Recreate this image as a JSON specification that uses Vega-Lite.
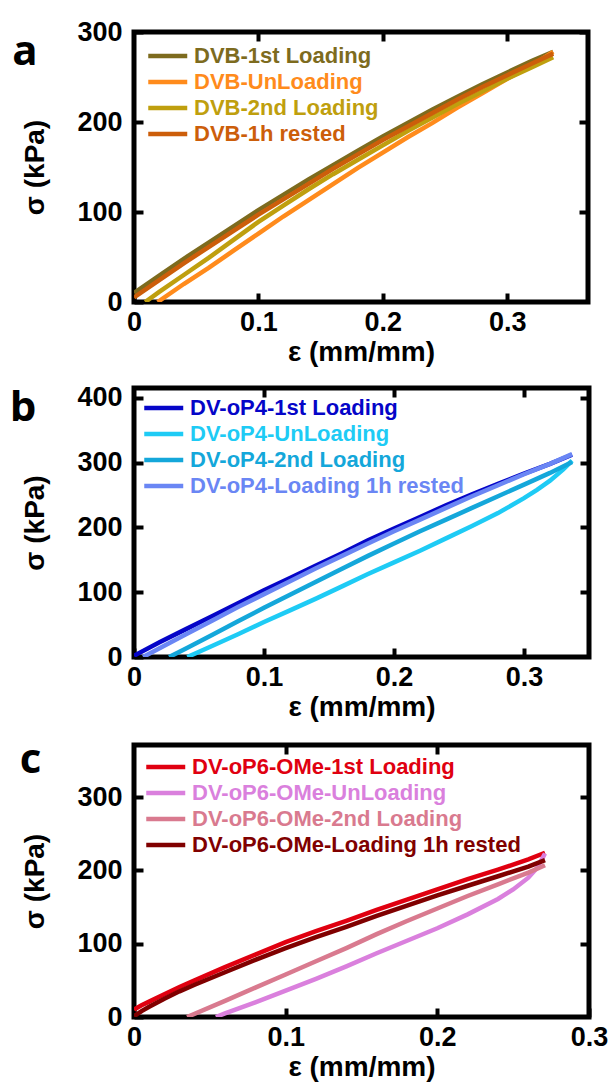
{
  "$schema": "https://vega.github.io/schema/vega-lite/v6.json",
  "background": "white",
  "padding": {"left": 7, "top": 15, "right": 0, "bottom": 0},
  "spacing": 12,
  "datasets": {
    "a": [
      {"s": "DVB-1st Loading", "x": 0, "y": 10}, {"s": "DVB-1st Loading", "x": 0.02, "y": 29}, {"s": "DVB-1st Loading", "x": 0.04, "y": 48}, {"s": "DVB-1st Loading", "x": 0.06, "y": 66}, {"s": "DVB-1st Loading", "x": 0.08, "y": 84}, {"s": "DVB-1st Loading", "x": 0.1, "y": 102}, {"s": "DVB-1st Loading", "x": 0.12, "y": 119}, {"s": "DVB-1st Loading", "x": 0.14, "y": 136}, {"s": "DVB-1st Loading", "x": 0.16, "y": 152}, {"s": "DVB-1st Loading", "x": 0.18, "y": 168}, {"s": "DVB-1st Loading", "x": 0.2, "y": 184}, {"s": "DVB-1st Loading", "x": 0.22, "y": 199}, {"s": "DVB-1st Loading", "x": 0.24, "y": 214}, {"s": "DVB-1st Loading", "x": 0.26, "y": 228}, {"s": "DVB-1st Loading", "x": 0.28, "y": 242}, {"s": "DVB-1st Loading", "x": 0.3, "y": 255}, {"s": "DVB-1st Loading", "x": 0.32, "y": 268}, {"s": "DVB-1st Loading", "x": 0.337, "y": 278},
      {"s": "DVB-UnLoading", "x": 0.019, "y": 0}, {"s": "DVB-UnLoading", "x": 0.04, "y": 20}, {"s": "DVB-UnLoading", "x": 0.06, "y": 38}, {"s": "DVB-UnLoading", "x": 0.08, "y": 57}, {"s": "DVB-UnLoading", "x": 0.1, "y": 76}, {"s": "DVB-UnLoading", "x": 0.12, "y": 95}, {"s": "DVB-UnLoading", "x": 0.14, "y": 113}, {"s": "DVB-UnLoading", "x": 0.16, "y": 131}, {"s": "DVB-UnLoading", "x": 0.18, "y": 149}, {"s": "DVB-UnLoading", "x": 0.2, "y": 166}, {"s": "DVB-UnLoading", "x": 0.22, "y": 183}, {"s": "DVB-UnLoading", "x": 0.24, "y": 199}, {"s": "DVB-UnLoading", "x": 0.26, "y": 216}, {"s": "DVB-UnLoading", "x": 0.28, "y": 232}, {"s": "DVB-UnLoading", "x": 0.3, "y": 248}, {"s": "DVB-UnLoading", "x": 0.32, "y": 263}, {"s": "DVB-UnLoading", "x": 0.337, "y": 278},
      {"s": "DVB-2nd Loading", "x": 0.009, "y": 0}, {"s": "DVB-2nd Loading", "x": 0.02, "y": 11}, {"s": "DVB-2nd Loading", "x": 0.04, "y": 30}, {"s": "DVB-2nd Loading", "x": 0.06, "y": 49}, {"s": "DVB-2nd Loading", "x": 0.08, "y": 69}, {"s": "DVB-2nd Loading", "x": 0.1, "y": 89}, {"s": "DVB-2nd Loading", "x": 0.12, "y": 107}, {"s": "DVB-2nd Loading", "x": 0.14, "y": 125}, {"s": "DVB-2nd Loading", "x": 0.16, "y": 142}, {"s": "DVB-2nd Loading", "x": 0.18, "y": 158}, {"s": "DVB-2nd Loading", "x": 0.2, "y": 174}, {"s": "DVB-2nd Loading", "x": 0.22, "y": 190}, {"s": "DVB-2nd Loading", "x": 0.24, "y": 205}, {"s": "DVB-2nd Loading", "x": 0.26, "y": 220}, {"s": "DVB-2nd Loading", "x": 0.28, "y": 234}, {"s": "DVB-2nd Loading", "x": 0.3, "y": 248}, {"s": "DVB-2nd Loading", "x": 0.32, "y": 261}, {"s": "DVB-2nd Loading", "x": 0.337, "y": 272},
      {"s": "DVB-1h rested", "x": 0, "y": 5}, {"s": "DVB-1h rested", "x": 0.02, "y": 24}, {"s": "DVB-1h rested", "x": 0.04, "y": 43}, {"s": "DVB-1h rested", "x": 0.06, "y": 61}, {"s": "DVB-1h rested", "x": 0.08, "y": 79}, {"s": "DVB-1h rested", "x": 0.1, "y": 97}, {"s": "DVB-1h rested", "x": 0.12, "y": 114}, {"s": "DVB-1h rested", "x": 0.14, "y": 131}, {"s": "DVB-1h rested", "x": 0.16, "y": 148}, {"s": "DVB-1h rested", "x": 0.18, "y": 164}, {"s": "DVB-1h rested", "x": 0.2, "y": 180}, {"s": "DVB-1h rested", "x": 0.22, "y": 195}, {"s": "DVB-1h rested", "x": 0.24, "y": 210}, {"s": "DVB-1h rested", "x": 0.26, "y": 225}, {"s": "DVB-1h rested", "x": 0.28, "y": 239}, {"s": "DVB-1h rested", "x": 0.3, "y": 252}, {"s": "DVB-1h rested", "x": 0.32, "y": 265}, {"s": "DVB-1h rested", "x": 0.337, "y": 276}
    ],
    "b": [
      {"s": "DV-oP4-1st Loading", "x": 0, "y": 2}, {"s": "DV-oP4-1st Loading", "x": 0.02, "y": 23}, {"s": "DV-oP4-1st Loading", "x": 0.04, "y": 43}, {"s": "DV-oP4-1st Loading", "x": 0.06, "y": 63}, {"s": "DV-oP4-1st Loading", "x": 0.08, "y": 83}, {"s": "DV-oP4-1st Loading", "x": 0.1, "y": 103}, {"s": "DV-oP4-1st Loading", "x": 0.12, "y": 122}, {"s": "DV-oP4-1st Loading", "x": 0.14, "y": 141}, {"s": "DV-oP4-1st Loading", "x": 0.16, "y": 160}, {"s": "DV-oP4-1st Loading", "x": 0.18, "y": 180}, {"s": "DV-oP4-1st Loading", "x": 0.2, "y": 198}, {"s": "DV-oP4-1st Loading", "x": 0.22, "y": 216}, {"s": "DV-oP4-1st Loading", "x": 0.24, "y": 234}, {"s": "DV-oP4-1st Loading", "x": 0.26, "y": 251}, {"s": "DV-oP4-1st Loading", "x": 0.28, "y": 267}, {"s": "DV-oP4-1st Loading", "x": 0.3, "y": 283}, {"s": "DV-oP4-1st Loading", "x": 0.32, "y": 298}, {"s": "DV-oP4-1st Loading", "x": 0.337, "y": 312},
      {"s": "DV-oP4-UnLoading", "x": 0.041, "y": 0}, {"s": "DV-oP4-UnLoading", "x": 0.06, "y": 17}, {"s": "DV-oP4-UnLoading", "x": 0.08, "y": 35}, {"s": "DV-oP4-UnLoading", "x": 0.1, "y": 54}, {"s": "DV-oP4-UnLoading", "x": 0.12, "y": 72}, {"s": "DV-oP4-UnLoading", "x": 0.14, "y": 90}, {"s": "DV-oP4-UnLoading", "x": 0.16, "y": 109}, {"s": "DV-oP4-UnLoading", "x": 0.18, "y": 128}, {"s": "DV-oP4-UnLoading", "x": 0.2, "y": 146}, {"s": "DV-oP4-UnLoading", "x": 0.22, "y": 164}, {"s": "DV-oP4-UnLoading", "x": 0.24, "y": 183}, {"s": "DV-oP4-UnLoading", "x": 0.26, "y": 202}, {"s": "DV-oP4-UnLoading", "x": 0.28, "y": 222}, {"s": "DV-oP4-UnLoading", "x": 0.3, "y": 245}, {"s": "DV-oP4-UnLoading", "x": 0.31, "y": 258}, {"s": "DV-oP4-UnLoading", "x": 0.32, "y": 272}, {"s": "DV-oP4-UnLoading", "x": 0.33, "y": 289}, {"s": "DV-oP4-UnLoading", "x": 0.337, "y": 303},
      {"s": "DV-oP4-2nd Loading", "x": 0.027, "y": 0}, {"s": "DV-oP4-2nd Loading", "x": 0.04, "y": 13}, {"s": "DV-oP4-2nd Loading", "x": 0.06, "y": 34}, {"s": "DV-oP4-2nd Loading", "x": 0.08, "y": 55}, {"s": "DV-oP4-2nd Loading", "x": 0.1, "y": 76}, {"s": "DV-oP4-2nd Loading", "x": 0.12, "y": 96}, {"s": "DV-oP4-2nd Loading", "x": 0.14, "y": 116}, {"s": "DV-oP4-2nd Loading", "x": 0.16, "y": 136}, {"s": "DV-oP4-2nd Loading", "x": 0.18, "y": 156}, {"s": "DV-oP4-2nd Loading", "x": 0.2, "y": 175}, {"s": "DV-oP4-2nd Loading", "x": 0.22, "y": 194}, {"s": "DV-oP4-2nd Loading", "x": 0.24, "y": 212}, {"s": "DV-oP4-2nd Loading", "x": 0.26, "y": 230}, {"s": "DV-oP4-2nd Loading", "x": 0.28, "y": 248}, {"s": "DV-oP4-2nd Loading", "x": 0.3, "y": 266}, {"s": "DV-oP4-2nd Loading", "x": 0.32, "y": 284}, {"s": "DV-oP4-2nd Loading", "x": 0.337, "y": 301},
      {"s": "DV-oP4-Loading 1h rested", "x": 0.007, "y": 0}, {"s": "DV-oP4-Loading 1h rested", "x": 0.02, "y": 14}, {"s": "DV-oP4-Loading 1h rested", "x": 0.04, "y": 35}, {"s": "DV-oP4-Loading 1h rested", "x": 0.06, "y": 56}, {"s": "DV-oP4-Loading 1h rested", "x": 0.08, "y": 77}, {"s": "DV-oP4-Loading 1h rested", "x": 0.1, "y": 97}, {"s": "DV-oP4-Loading 1h rested", "x": 0.12, "y": 117}, {"s": "DV-oP4-Loading 1h rested", "x": 0.14, "y": 137}, {"s": "DV-oP4-Loading 1h rested", "x": 0.16, "y": 156}, {"s": "DV-oP4-Loading 1h rested", "x": 0.18, "y": 175}, {"s": "DV-oP4-Loading 1h rested", "x": 0.2, "y": 194}, {"s": "DV-oP4-Loading 1h rested", "x": 0.22, "y": 212}, {"s": "DV-oP4-Loading 1h rested", "x": 0.24, "y": 230}, {"s": "DV-oP4-Loading 1h rested", "x": 0.26, "y": 248}, {"s": "DV-oP4-Loading 1h rested", "x": 0.28, "y": 265}, {"s": "DV-oP4-Loading 1h rested", "x": 0.3, "y": 282}, {"s": "DV-oP4-Loading 1h rested", "x": 0.32, "y": 298}, {"s": "DV-oP4-Loading 1h rested", "x": 0.337, "y": 313}
    ],
    "c": [
      {"s": "DV-oP6-OMe-1st Loading", "x": 0, "y": 10}, {"s": "DV-oP6-OMe-1st Loading", "x": 0.005, "y": 16}, {"s": "DV-oP6-OMe-1st Loading", "x": 0.01, "y": 21}, {"s": "DV-oP6-OMe-1st Loading", "x": 0.02, "y": 31}, {"s": "DV-oP6-OMe-1st Loading", "x": 0.03, "y": 41}, {"s": "DV-oP6-OMe-1st Loading", "x": 0.04, "y": 50}, {"s": "DV-oP6-OMe-1st Loading", "x": 0.06, "y": 68}, {"s": "DV-oP6-OMe-1st Loading", "x": 0.08, "y": 85}, {"s": "DV-oP6-OMe-1st Loading", "x": 0.1, "y": 102}, {"s": "DV-oP6-OMe-1st Loading", "x": 0.12, "y": 117}, {"s": "DV-oP6-OMe-1st Loading", "x": 0.14, "y": 131}, {"s": "DV-oP6-OMe-1st Loading", "x": 0.16, "y": 146}, {"s": "DV-oP6-OMe-1st Loading", "x": 0.18, "y": 160}, {"s": "DV-oP6-OMe-1st Loading", "x": 0.2, "y": 174}, {"s": "DV-oP6-OMe-1st Loading", "x": 0.22, "y": 188}, {"s": "DV-oP6-OMe-1st Loading", "x": 0.24, "y": 201}, {"s": "DV-oP6-OMe-1st Loading", "x": 0.26, "y": 215}, {"s": "DV-oP6-OMe-1st Loading", "x": 0.271, "y": 224},
      {"s": "DV-oP6-OMe-UnLoading", "x": 0.054, "y": 0}, {"s": "DV-oP6-OMe-UnLoading", "x": 0.06, "y": 5}, {"s": "DV-oP6-OMe-UnLoading", "x": 0.08, "y": 20}, {"s": "DV-oP6-OMe-UnLoading", "x": 0.1, "y": 36}, {"s": "DV-oP6-OMe-UnLoading", "x": 0.12, "y": 52}, {"s": "DV-oP6-OMe-UnLoading", "x": 0.14, "y": 69}, {"s": "DV-oP6-OMe-UnLoading", "x": 0.16, "y": 87}, {"s": "DV-oP6-OMe-UnLoading", "x": 0.18, "y": 104}, {"s": "DV-oP6-OMe-UnLoading", "x": 0.2, "y": 121}, {"s": "DV-oP6-OMe-UnLoading", "x": 0.22, "y": 140}, {"s": "DV-oP6-OMe-UnLoading", "x": 0.24, "y": 161}, {"s": "DV-oP6-OMe-UnLoading", "x": 0.25, "y": 174}, {"s": "DV-oP6-OMe-UnLoading", "x": 0.26, "y": 190}, {"s": "DV-oP6-OMe-UnLoading", "x": 0.266, "y": 204}, {"s": "DV-oP6-OMe-UnLoading", "x": 0.271, "y": 223},
      {"s": "DV-oP6-OMe-2nd Loading", "x": 0.035, "y": 0}, {"s": "DV-oP6-OMe-2nd Loading", "x": 0.06, "y": 22}, {"s": "DV-oP6-OMe-2nd Loading", "x": 0.08, "y": 40}, {"s": "DV-oP6-OMe-2nd Loading", "x": 0.1, "y": 58}, {"s": "DV-oP6-OMe-2nd Loading", "x": 0.12, "y": 76}, {"s": "DV-oP6-OMe-2nd Loading", "x": 0.14, "y": 94}, {"s": "DV-oP6-OMe-2nd Loading", "x": 0.16, "y": 113}, {"s": "DV-oP6-OMe-2nd Loading", "x": 0.18, "y": 131}, {"s": "DV-oP6-OMe-2nd Loading", "x": 0.2, "y": 148}, {"s": "DV-oP6-OMe-2nd Loading", "x": 0.22, "y": 165}, {"s": "DV-oP6-OMe-2nd Loading", "x": 0.24, "y": 181}, {"s": "DV-oP6-OMe-2nd Loading", "x": 0.26, "y": 197}, {"s": "DV-oP6-OMe-2nd Loading", "x": 0.271, "y": 207},
      {"s": "DV-oP6-OMe-Loading 1h rested", "x": 0, "y": 1}, {"s": "DV-oP6-OMe-Loading 1h rested", "x": 0.005, "y": 8}, {"s": "DV-oP6-OMe-Loading 1h rested", "x": 0.01, "y": 14}, {"s": "DV-oP6-OMe-Loading 1h rested", "x": 0.02, "y": 25}, {"s": "DV-oP6-OMe-Loading 1h rested", "x": 0.03, "y": 35}, {"s": "DV-oP6-OMe-Loading 1h rested", "x": 0.04, "y": 44}, {"s": "DV-oP6-OMe-Loading 1h rested", "x": 0.06, "y": 61}, {"s": "DV-oP6-OMe-Loading 1h rested", "x": 0.08, "y": 78}, {"s": "DV-oP6-OMe-Loading 1h rested", "x": 0.1, "y": 94}, {"s": "DV-oP6-OMe-Loading 1h rested", "x": 0.12, "y": 109}, {"s": "DV-oP6-OMe-Loading 1h rested", "x": 0.14, "y": 123}, {"s": "DV-oP6-OMe-Loading 1h rested", "x": 0.16, "y": 138}, {"s": "DV-oP6-OMe-Loading 1h rested", "x": 0.18, "y": 152}, {"s": "DV-oP6-OMe-Loading 1h rested", "x": 0.2, "y": 166}, {"s": "DV-oP6-OMe-Loading 1h rested", "x": 0.22, "y": 179}, {"s": "DV-oP6-OMe-Loading 1h rested", "x": 0.24, "y": 192}, {"s": "DV-oP6-OMe-Loading 1h rested", "x": 0.26, "y": 205}, {"s": "DV-oP6-OMe-Loading 1h rested", "x": 0.271, "y": 214}
    ]
  },
  "vconcat": [
    {
      "title": {"text": "a", "orient": "left", "anchor": "end", "frame": "group", "angle": 0, "align": "right", "baseline": "top", "offset": -29, "dx": 12, "font": "Open Sans", "fontSize": 42, "fontWeight": "bold", "color": "black"},
      "width": 454, "height": 270,
      "data": {"name": "a"},
      "layer": [
        {
          "mark": {"type": "line", "strokeWidth": 4.5, "clip": true},
          "encoding": {
            "x": {"field": "x", "type": "quantitative", "scale": {"domain": [0, 0.365], "nice": false, "zero": false}, "axis": {"values": [0, 0.1, 0.2, 0.3], "format": "~g", "title": "ε (mm/mm)"}},
            "y": {"field": "y", "type": "quantitative", "scale": {"domain": [0, 300], "nice": false}, "axis": {"values": [0, 100, 200, 300], "title": "σ (kPa)"}},
            "color": {"field": "s", "type": "nominal",
              "scale": {"domain": ["DVB-1st Loading", "DVB-UnLoading", "DVB-2nd Loading", "DVB-1h rested"], "range": ["#7d6b1e", "#ff8b1c", "#bf9f0e", "#cc5e0a"]},
              "legend": {"encode": {"labels": {"update": {"fill": {"signal": "datum.label === 'DVB-1st Loading' ? '#7d6b1e' : datum.label === 'DVB-UnLoading' ? '#ff8b1c' : datum.label === 'DVB-2nd Loading' ? '#bf9f0e' : '#cc5e0a'"}}}}}}
          }
        },
        {
          "mark": {"type": "point", "opacity": 0},
          "encoding": {
            "x": {"field": "x", "type": "quantitative", "scale": {"domain": [0, 0.365], "nice": false, "zero": false}, "axis": {"orient": "top", "values": [0.1, 0.2, 0.3], "labels": false, "title": null}},
            "y": {"field": "y", "type": "quantitative", "scale": {"domain": [0, 300], "nice": false}, "axis": {"orient": "right", "values": [100, 200, 300], "labels": false, "title": null}}
          }
        }
      ],
      "resolve": {"axis": {"x": "independent", "y": "independent"}}
    },
    {
      "title": {"text": "b", "orient": "left", "anchor": "end", "frame": "group", "angle": 0, "align": "right", "baseline": "top", "offset": -29, "dx": 12, "font": "Open Sans", "fontSize": 42, "fontWeight": "bold", "color": "black"},
      "width": 455, "height": 269,
      "data": {"name": "b"},
      "layer": [
        {
          "mark": {"type": "line", "strokeWidth": 4.5, "clip": true},
          "encoding": {
            "x": {"field": "x", "type": "quantitative", "scale": {"domain": [0, 0.35], "nice": false, "zero": false}, "axis": {"values": [0, 0.1, 0.2, 0.3], "format": "~g", "title": "ε (mm/mm)"}},
            "y": {"field": "y", "type": "quantitative", "scale": {"domain": [0, 415], "nice": false}, "axis": {"values": [0, 100, 200, 300, 400], "title": "σ (kPa)"}},
            "color": {"field": "s", "type": "nominal",
              "scale": {"domain": ["DV-oP4-1st Loading", "DV-oP4-UnLoading", "DV-oP4-2nd Loading", "DV-oP4-Loading 1h rested"], "range": ["#0505c8", "#1ecbf5", "#14a7da", "#6a86f4"]},
              "legend": {"offset": 8, "encode": {"labels": {"update": {"fill": {"signal": "datum.label === 'DV-oP4-1st Loading' ? '#0505c8' : datum.label === 'DV-oP4-UnLoading' ? '#1ecbf5' : datum.label === 'DV-oP4-2nd Loading' ? '#14a7da' : '#6a86f4'"}}}}}}
          }
        },
        {
          "mark": {"type": "point", "opacity": 0},
          "encoding": {
            "x": {"field": "x", "type": "quantitative", "scale": {"domain": [0, 0.35], "nice": false, "zero": false}, "axis": {"orient": "top", "values": [0.1, 0.2, 0.3], "labels": false, "title": null}},
            "y": {"field": "y", "type": "quantitative", "scale": {"domain": [0, 415], "nice": false}, "axis": {"orient": "right", "values": [100, 200, 300, 400], "labels": false, "title": null}}
          }
        }
      ],
      "resolve": {"axis": {"x": "independent", "y": "independent"}}
    },
    {
      "title": {"text": "c", "orient": "left", "anchor": "end", "frame": "group", "angle": 0, "align": "right", "baseline": "top", "offset": -29, "dx": 12, "dy": -5, "font": "Open Sans", "fontSize": 42, "fontWeight": "bold", "color": "black"},
      "width": 455, "height": 272,
      "data": {"name": "c"},
      "layer": [
        {
          "mark": {"type": "line", "strokeWidth": 4.5, "clip": true},
          "encoding": {
            "x": {"field": "x", "type": "quantitative", "scale": {"domain": [0, 0.3], "nice": false, "zero": false}, "axis": {"values": [0, 0.1, 0.2, 0.3], "format": "~g", "title": "ε (mm/mm)"}},
            "y": {"field": "y", "type": "quantitative", "scale": {"domain": [0, 371], "nice": false}, "axis": {"values": [0, 100, 200, 300], "title": "σ (kPa)"}},
            "color": {"field": "s", "type": "nominal",
              "scale": {"domain": ["DV-oP6-OMe-1st Loading", "DV-oP6-OMe-UnLoading", "DV-oP6-OMe-2nd Loading", "DV-oP6-OMe-Loading 1h rested"], "range": ["#e00010", "#da80dd", "#d97a8f", "#800000"]},
              "legend": {"offset": 10, "encode": {"labels": {"update": {"fill": {"signal": "datum.label === 'DV-oP6-OMe-1st Loading' ? '#e00010' : datum.label === 'DV-oP6-OMe-UnLoading' ? '#da80dd' : datum.label === 'DV-oP6-OMe-2nd Loading' ? '#d97a8f' : '#800000'"}}}}}}
          }
        },
        {
          "mark": {"type": "point", "opacity": 0},
          "encoding": {
            "x": {"field": "x", "type": "quantitative", "scale": {"domain": [0, 0.3], "nice": false, "zero": false}, "axis": {"orient": "top", "values": [0.1, 0.2], "labels": false, "title": null}},
            "y": {"field": "y", "type": "quantitative", "scale": {"domain": [0, 371], "nice": false}, "axis": {"orient": "right", "values": [100, 200, 300], "labels": false, "title": null}}
          }
        }
      ],
      "resolve": {"axis": {"x": "independent", "y": "independent"}}
    }
  ],
  "resolve": {"scale": {"x": "independent", "y": "independent", "color": "independent"}, "legend": {"color": "independent"}},
  "config": {
    "view": {"stroke": "black", "strokeWidth": 5},
    "axis": {"domain": false, "grid": false, "ticks": true, "tickColor": "black", "tickWidth": 4, "tickSize": -9, "labelPadding": 21, "labelFlush": false, "labelFont": "Liberation Sans", "labelFontSize": 27, "labelFontWeight": "bold", "labelColor": "black", "titleFont": "Liberation Sans", "titleFontSize": 28, "titleFontWeight": "bold", "titleColor": "black", "titlePadding": 10},
    "axisX": {"labelPadding": 16, "titlePadding": 3},
    "axisY": {"titlePadding": 27},
    "legend": {"title": null, "orient": "top-left", "offset": 12, "padding": 0, "symbolType": "M-1,0H3", "symbolSize": 380, "symbolStrokeWidth": 4.5, "labelOffset": 24, "rowPadding": 3, "labelLimit": 600, "labelFont": "Liberation Sans", "labelFontSize": 22, "labelFontWeight": "bold"}
  }
}
